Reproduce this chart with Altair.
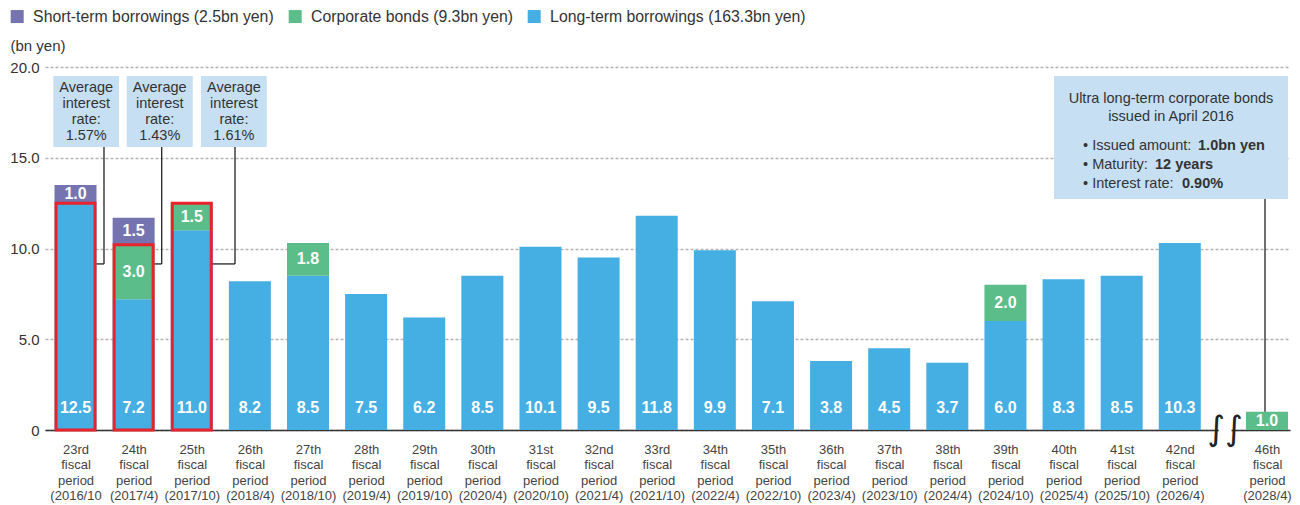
import json
import altair as alt
import pandas as pd

# ---------------- data ----------------
periods = ["23rd", "24th", "25th", "26th", "27th", "28th", "29th", "30th", "31st", "32nd",
           "33rd", "34th", "35th", "36th", "37th", "38th", "39th", "40th", "41st", "42nd", "46th"]
dates = ["(2016/10", "(2017/4)", "(2017/10)", "(2018/4)", "(2018/10)", "(2019/4)", "(2019/10)",
         "(2020/4)", "(2020/10)", "(2021/4)", "(2021/10)", "(2022/4)", "(2022/10)", "(2023/4)",
         "(2023/10)", "(2024/4)", "(2024/10)", "(2025/4)", "(2025/10)", "(2026/4)", "(2028/4)"]
long_term = [12.5, 7.2, 11.0, 8.2, 8.5, 7.5, 6.2, 8.5, 10.1, 9.5, 11.8, 9.9, 7.1, 3.8, 4.5, 3.7,
             6.0, 8.3, 8.5, 10.3, 0]
corporate = [0, 3.0, 1.5, 0, 1.8, 0, 0, 0, 0, 0, 0, 0, 0, 0, 0, 0, 2.0, 0, 0, 0, 1.0]
short_term = [1.0, 1.5, 0, 0, 0, 0, 0, 0, 0, 0, 0, 0, 0, 0, 0, 0, 0, 0, 0, 0, 0]
series_names = ["Short-term borrowings (2.5bn yen)", "Corporate bonds (9.3bn yen)",
                "Long-term borrowings (163.3bn yen)"]
avg_rates = ["1.57%", "1.43%", "1.61%"]
highlighted = 3  # first three periods outlined

# ---------------- layout helpers ----------------
BREAK_AFTER = 19      # axis break after 42nd period
BREAK_GAP = 0.5
slots = [i if i <= BREAK_AFTER else i + BREAK_GAP for i in range(len(periods))]

FONT = "Liberation Sans"
COLORS = ["#7574b0", "#5bbd89", "#45aee2"]
RED = "#e8232b"
BOX = "#c6dff3"
INK = "#333333"

rows = []
for i, p in enumerate(periods):
    for name, vals, order in [(series_names[2], long_term, 0),
                              (series_names[1], corporate, 1),
                              (series_names[0], short_term, 2)]:
        if vals[i] > 0:
            rows.append({"period": p, "slot": slots[i], "series": name,
                         "value": vals[i], "ord": order})
df = pd.DataFrame(rows)

outline_df = pd.DataFrame({
    "slot": slots[:highlighted],
    "top": [long_term[i] + corporate[i] for i in range(highlighted)],
})

labels = [[p, "fiscal", "period", d] for p, d in zip(periods, dates)]
label_expr = f"{json.dumps(labels)}[indexof({json.dumps(slots)}, datum.value)]"

xscale = alt.Scale(domain=[-0.525, 20.896], nice=False, zero=False, padding=0)
yscale = alt.Scale(domain=[0, 20], nice=False, padding=0)

xaxis = alt.Axis(values=slots, labelExpr=label_expr, title=None, ticks=False, tickSize=0,
                 grid=False, domain=True, domainColor="#333333", domainWidth=1.5,
                 labelFont=FONT, labelFontSize=13, labelColor="#444444", labelLineHeight=15.5,
                 labelPadding=13, labelAngle=0, labelBaseline="top", labelAlign="center")
yaxis = alt.Axis(values=[0, 5, 10, 15, 20],
                 labelExpr="datum.value == 0 ? '0' : format(datum.value, '.1f')",
                 ticks=False, tickSize=0, domain=False, grid=True, gridColor="#b5b5b5",
                 gridDash=[3, 2], gridWidth=1.4, labelFont=FONT, labelFontSize=15,
                 labelColor=INK, labelPadding=6,
                 title="(bn yen)", titleAngle=0, titleX=-35, titleY=-22, titleAlign="left",
                 titleBaseline="middle", titleFont=FONT, titleFontSize=15,
                 titleFontWeight="normal", titleColor=INK)

base = alt.Chart(df).transform_stack(
    stack="value", groupby=["period"], as_=["y0", "y1"],
    sort=[alt.SortField("ord", order="ascending")]
).transform_calculate(mid="(datum.y0 + datum.y1) / 2")

bars = base.mark_bar(size=42).encode(
    x=alt.X("slot:Q", scale=xscale, axis=xaxis),
    y=alt.Y("y0:Q", scale=yscale, axis=yaxis),
    y2="y1:Q",
    color=alt.Color("series:N", scale=alt.Scale(domain=series_names, range=COLORS),
                    legend=alt.Legend(orient="none", legendX=-35.7, legendY=-58.5,
                                      direction="horizontal", title=None,
                                      symbolType="square", symbolSize=169,
                                      symbolStrokeWidth=0, labelFont=FONT,
                                      labelFontSize=15.8, labelColor=INK, labelOffset=8,
                                      labelLimit=0, columnPadding=13, padding=0)),
)

outline = alt.Chart(outline_df).mark_bar(size=39, filled=False, stroke=RED,
                                         strokeWidth=3).encode(
    x=alt.X("slot:Q", scale=xscale), y=alt.Y("top:Q", scale=yscale))

long_lbl = base.transform_filter(alt.datum.ord == 0).mark_text(
    font=FONT, fontSize=16, fontWeight="bold", color="white", baseline="middle", dy=-22
).encode(x="slot:Q", y=alt.datum(0), text=alt.Text("value:Q", format=".1f"))

other_lbl = base.transform_filter(alt.datum.ord > 0).mark_text(
    font=FONT, fontSize=16, fontWeight="bold", color="white", baseline="middle"
).encode(x="slot:Q", y="mid:Q", text=alt.Text("value:Q", format=".1f"))

# ---------------- annotations ----------------
rate_df = pd.DataFrame({
    "x1": [-0.382, 0.881, 2.159], "x2": [0.748, 2.017, 3.290],
    "cx": [0.184, 1.449, 2.725], "top": [19.5] * 3, "bottom": [15.59] * 3,
    "first": [18.84] * 3,
    "lx": [0.490, 1.483, 2.744], "elbow": [9.15] * 3,
    "edge": [s + 0.361 for s in slots[:3]],
    "txt": [["Average", "interest", "rate:", r] for r in avg_rates],
})
rate_box = alt.Chart(rate_df).mark_rect(color=BOX).encode(
    x="x1:Q", x2="x2:Q", y="top:Q", y2="bottom:Q")
rate_txt = alt.Chart(rate_df).mark_text(font=FONT, fontSize=14.5, color=INK, lineHeight=16,
                                        baseline="middle", align="center").encode(
    x="cx:Q", y="first:Q", text="txt")
rate_v = alt.Chart(rate_df).mark_rule(color="#222222", strokeWidth=1.3).encode(
    x="lx:Q", y="bottom:Q", y2="elbow:Q")
rate_h = alt.Chart(rate_df).mark_rule(color="#222222", strokeWidth=1.3).encode(
    x="edge:Q", x2="lx:Q", y="elbow:Q")

note_box_df = pd.DataFrame({"x1": [16.836], "x2": [20.862], "top": [19.5], "bottom": [12.73],
                            "lx": [20.466], "bar": [corporate[-1]]})
note_box = alt.Chart(note_box_df).mark_rect(color=BOX).encode(
    x="x1:Q", x2="x2:Q", y="top:Q", y2="bottom:Q")
note_line = alt.Chart(note_box_df).mark_rule(color="#222222", strokeWidth=1.3).encode(
    x="lx:Q", y="bottom:Q", y2="bar:Q")

note_title_df = pd.DataFrame({"x": [18.849], "y": [18.24],
                              "t": [["Ultra long-term corporate bonds", "issued in April 2016"]]})
note_title = alt.Chart(note_title_df).mark_text(font=FONT, fontSize=14.5, color=INK,
                                                lineHeight=18, baseline="middle",
                                                align="center").encode(
    x="x:Q", y="y:Q", text="t")

bullet_df = pd.DataFrame({
    "x": [17.335] * 3, "bx": [19.314, 18.574, 19.038], "y": [15.65, 14.60, 13.55],
    "label": ["• Issued amount: ", "• Maturity: ", "• Interest rate: "],
    "bold": ["1.0bn yen", "12 years", "0.90%"],
})
bullet_n = alt.Chart(bullet_df).mark_text(font=FONT, fontSize=14.5, color=INK,
                                          baseline="middle", align="left").encode(
    x="x:Q", y="y:Q", text="label:N")
bullet_b = alt.Chart(bullet_df).mark_text(font=FONT, fontSize=14.5, color=INK,
                                          fontWeight="bold", baseline="middle",
                                          align="left").encode(
    x="bx:Q", y="y:Q", text="bold:N")

brk_df = pd.DataFrame({"x1": [19.67], "x2": [19.89], "y1": [-0.12], "y2": [0.12],
                       "cx": [19.78], "cy": [0.0], "g": ["∫∫"]})
brk_rect = alt.Chart(brk_df).mark_rect(color="white").encode(
    x="x1:Q", x2="x2:Q", y="y1:Q", y2="y2:Q")
brk_txt = alt.Chart(brk_df).mark_text(font="DejaVu Sans", fontSize=34, color="#222222",
                                      baseline="middle", align="center").encode(
    x="cx:Q", y="cy:Q", text="g:N")

chart = alt.layer(
    bars, outline, long_lbl, other_lbl,
    rate_box, rate_txt, rate_v, rate_h,
    note_box, note_line, note_title, bullet_n, bullet_b,
    brk_rect, brk_txt,
).properties(
    width=1245, height=363,
    autosize=alt.AutoSizeParams(type="none"),
    padding={"left": 37, "top": 59, "right": 2, "bottom": 75},
    background="white",
).configure_view(stroke=None)

chart.save("out.html", embed_options={"renderer": "svg", "actions": False})
